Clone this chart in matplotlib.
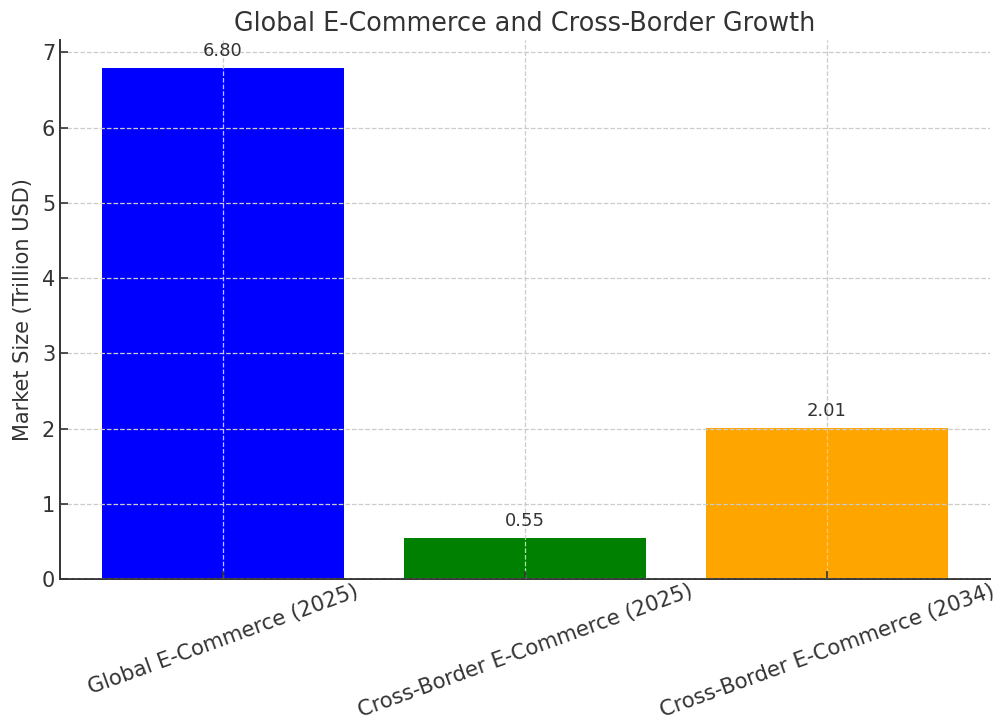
import matplotlib
matplotlib.use("Agg")
import matplotlib.pyplot as plt

categories = ["Global E-Commerce (2025)",
              "Cross-Border E-Commerce (2025)",
              "Cross-Border E-Commerce (2034)"]
market_size = [6.80, 0.55, 2.01]
bar_colors = ["blue", "green", "orange"]

TEXT = "#333333"

fig = plt.figure(figsize=(10.01, 7.22), dpi=100)
ax = fig.add_axes([0.060, 0.198, 0.929, 0.746])

bars = ax.bar(categories, market_size, color=bar_colors, width=0.8, zorder=2)
for b, v in zip(bars, market_size):
    ax.text(b.get_x() + b.get_width() / 2, v + 0.1, f"{v:.2f}",
            ha="center", va="bottom", fontsize=13, color=TEXT)

ax.set_ylim(0, 7.16)
ax.set_title("Global E-Commerce and Cross-Border Growth", fontsize=18.4,
             color=TEXT, pad=7)
ax.set_ylabel("Market Size (Trillion USD)", fontsize=15, color=TEXT,
              labelpad=6)
ax.tick_params(axis="both", direction="in", labelsize=15, colors=TEXT,
               length=6, width=1.2)
ax.tick_params(axis="x", labelrotation=20, labelsize=15.2, pad=1.5)
for lab in ax.get_xticklabels():
    lab.set_ha("center")

ax.grid(True, linestyle="--", color="#cccccc", linewidth=0.9, zorder=3)
ax.set_axisbelow(False)
for sp in ("top", "right"):
    ax.spines[sp].set_visible(False)
for sp in ("left", "bottom"):
    ax.spines[sp].set_color(TEXT)
    ax.spines[sp].set_linewidth(1.4)

fig.savefig("out.png", dpi=100)
